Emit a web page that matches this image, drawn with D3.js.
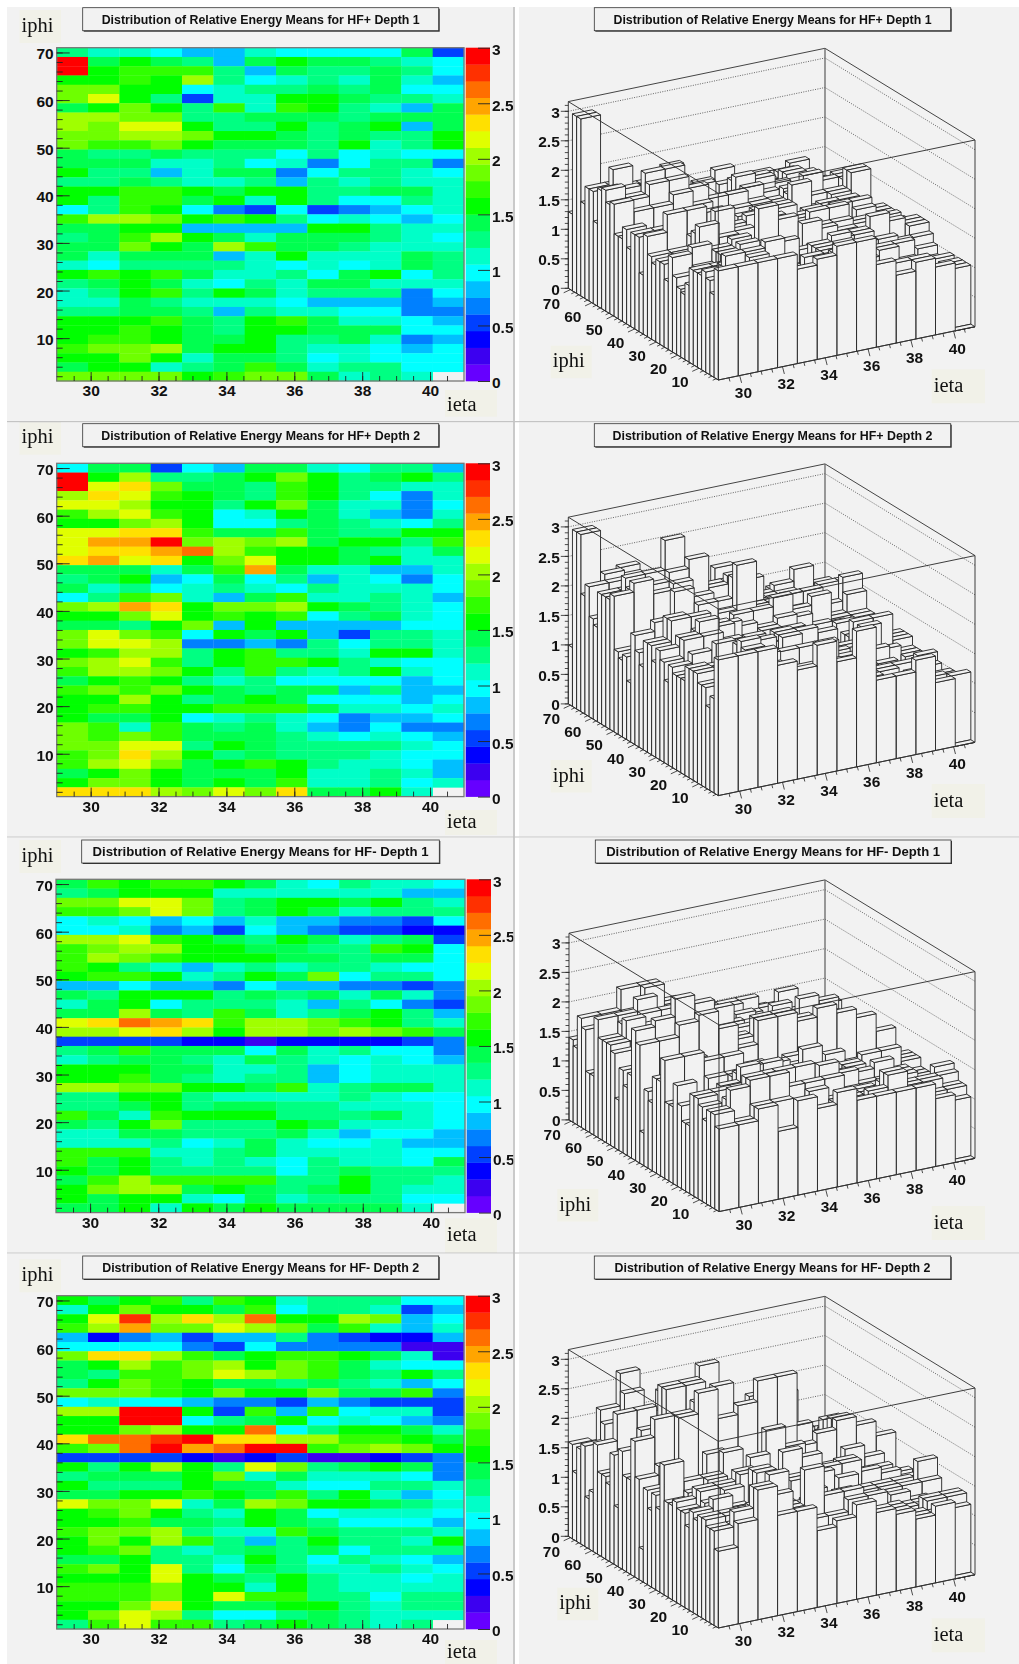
<!DOCTYPE html>
<html>
<head>
<meta charset="utf-8">
<script src="https://cdn.jsdelivr.net/npm/d3@7"></script>
<style>
  body { margin: 0; background: #fff; }
  svg { display: block; filter: blur(0.35px); }
  text { font-family: "Liberation Sans", Arial, sans-serif; }
  .tick text { font-family: "Liberation Sans", Arial, sans-serif; }
</style>
</head>
<body>
<div id="chart"></div>
<script>
// rows run from the top of the heat map (iphi 70) down to iphi 1, columns are ieta 29..41
const hfPlusDepth1 = [
  [1.3,1.15,1.15,1.0,.85,.85,1.15,1.0,1.0,1.0,1.0,1.4,.55],
  [3,1.45,1.6,1.4,1.25,.85,1.45,1.6,1.4,1.4,1.3,1.15,1.0],
  [3,1.6,1.7,1.7,1.7,1.3,.85,1.4,1.3,1.3,1.4,1.3,1.0],
  [1.6,1.6,1.7,1.6,1.95,1.3,1.0,1.15,1.3,1.15,1.45,1.15,.85],
  [1.9,1.9,1.6,1.6,1.0,1.15,1.3,1.3,1.4,1.3,1.45,1.0,1.0],
  [1.9,2.2,1.6,1.3,.55,1.15,1.15,1.6,1.6,1.4,1.3,1.3,1.15],
  [1.4,1.6,1.85,1.6,1.3,1.7,1.15,1.7,1.6,1.3,1.15,.85,1.4],
  [2.0,1.95,1.9,1.9,1.3,1.3,1.4,1.4,1.4,1.3,1.4,1.4,1.4],
  [2.05,1.85,2.2,2.2,1.6,1.3,1.3,1.6,1.3,1.45,1.6,.85,1.4],
  [1.85,1.85,2.05,2.05,1.85,1.6,1.6,1.4,1.3,1.4,1.3,1.3,1.6],
  [1.9,1.7,1.7,1.85,1.6,1.4,1.4,1.4,1.3,1.6,1.15,1.3,1.6],
  [1.4,1.3,1.3,1.4,1.3,1.3,1.3,1.0,1.3,1.0,1.15,1.0,1.0],
  [1.4,1.4,1.4,1.15,1.15,1.3,1.0,1.15,.7,1.0,1.3,1.3,.7],
  [1.6,1.3,1.3,.85,1.15,1.4,1.4,.7,1.0,1.3,1.3,1.15,1.0],
  [1.3,1.3,1.4,1.3,1.15,1.15,1.3,.85,1.3,1.15,1.3,1.15,1.15],
  [1.6,1.6,1.7,1.7,1.6,1.4,1.6,1.6,1.3,1.3,1.4,1.4,1.15],
  [1.6,1.3,1.7,1.7,1.4,1.6,1.15,1.6,1.3,1.0,1.0,1.3,1.15],
  [1.0,1.3,1.7,1.6,1.0,.7,.55,1.0,.5,.7,.85,1.0,1.15],
  [1.7,2.0,2.0,1.9,1.6,1.7,1.6,1.3,1.0,1.15,1.0,.85,1.0],
  [1.4,1.4,1.6,1.6,.85,.85,.85,.85,1.6,1.6,1.3,1.15,1.15],
  [1.3,1.4,1.7,2.0,1.6,1.4,1.15,1.4,1.4,1.4,1.3,1.15,1.0],
  [1.4,1.4,1.85,1.6,1.4,1.95,1.7,1.4,1.4,1.3,1.15,1.15,1.15],
  [1.4,1.15,1.4,1.4,1.4,.85,1.15,1.6,1.15,1.15,1.15,1.45,1.3],
  [1.15,1.0,1.3,1.3,1.3,1.3,1.15,1.0,1.15,1.0,1.15,1.4,1.3],
  [1.6,1.7,1.6,1.7,1.4,1.15,1.15,1.3,1.0,1.4,1.6,1.0,1.3],
  [1.3,1.4,1.6,1.4,1.15,1.0,1.3,1.15,1.4,1.4,1.15,1.15,1.15],
  [1.15,1.3,1.6,1.7,1.3,1.6,1.4,1.15,1.3,1.3,1.3,.7,1.0],
  [1.1,1.1,1.4,1.3,1.1,1.1,1.1,1.0,.85,.85,.85,.7,.85],
  [1.3,1.3,1.4,1.4,1.3,.85,1.3,1.15,1.15,1.0,1.0,.7,.7],
  [1.6,1.6,1.6,1.7,1.4,1.3,1.6,1.7,1.4,1.15,1.15,1.0,.85],
  [1.6,1.6,1.7,1.6,1.4,1.3,1.6,1.6,1.4,1.4,1.4,1.0,1.0],
  [1.6,1.7,1.7,1.6,1.4,1.4,1.6,1.3,1.3,1.4,1.15,.7,.85],
  [1.7,1.9,1.9,2.0,1.4,1.6,1.6,1.3,1.15,1.15,1.0,.85,1.0],
  [1.6,1.6,1.85,1.6,1.15,1.4,1.4,1.3,1.0,1.15,1.0,1.0,1.0],
  [1.4,1.6,1.6,1.15,1.3,1.4,1.7,1.4,1.15,1.3,1.3,1.0,1.0],
  [1.85,1.85,1.85,1.85,1.6,1.7,1.85,1.85,1.4,1.15,1.3,1.15,0]
];

const hfPlusDepth2 = [
  [1.0,1.4,1.4,.55,1.0,.85,1.4,1.4,1.15,1.0,1.3,1.3,.85],
  [3,1.6,2.0,1.3,1.3,1.4,1.6,1.9,1.6,1.3,1.4,1.6,1.3],
  [3,2.2,2.3,1.85,1.4,1.4,1.3,1.7,1.6,1.3,1.3,1.15,1.15],
  [2.0,2.3,2.2,1.7,1.6,1.4,1.3,1.7,1.6,1.3,1.0,.7,1.15],
  [2.2,2.2,2.0,1.6,1.6,1.3,1.6,1.9,1.4,1.15,1.15,.7,1.0],
  [1.7,2.0,2.2,1.7,1.6,1.0,1.15,1.6,1.4,1.15,.85,.7,1.15],
  [1.6,1.6,1.85,2.0,1.6,1.0,1.0,1.3,1.4,1.3,1.15,1.0,1.3],
  [2.2,2.2,2.3,2.3,1.7,1.4,1.4,1.7,1.4,1.3,1.3,1.6,1.6],
  [2.2,2.45,2.45,2.95,1.85,2.05,1.85,2.0,1.4,1.6,1.6,1.3,1.7],
  [2.2,2.3,2.3,2.45,2.6,2.05,1.7,1.6,1.6,1.4,1.3,1.15,1.45],
  [2.3,2.45,2.2,2.3,1.6,1.85,2.2,1.6,1.6,1.45,1.6,1.15,1.15],
  [1.4,1.4,1.4,1.15,1.4,1.7,2.45,1.4,1.15,1.15,.85,.85,1.15],
  [1.3,1.4,1.6,.85,1.0,1.45,1.0,1.3,.85,1.15,1.0,.7,1.0],
  [1.4,1.15,1.3,1.0,1.15,1.3,1.15,1.0,1.3,1.15,1.15,1.15,1.0],
  [1.0,1.3,1.7,1.85,1.15,.85,1.4,1.7,1.15,1.15,1.3,1.15,.85],
  [1.85,2.0,2.45,2.3,1.6,1.85,1.85,2.0,1.6,1.4,1.3,1.15,1.0],
  [1.6,1.6,1.85,2.2,1.6,1.7,1.6,1.7,1.0,1.3,1.4,1.15,1.0],
  [1.4,1.4,1.3,1.6,1.85,.85,1.6,.85,.85,.85,.85,1.0,1.0],
  [1.85,2.2,1.85,1.7,1.0,1.6,1.4,1.6,.85,.55,1.3,1.3,1.15],
  [1.85,2.2,2.2,2.0,.7,.7,.85,.7,1.3,1.0,1.3,1.3,1.15],
  [1.6,1.7,2.0,2.0,1.3,1.6,1.7,1.3,1.3,1.15,1.6,1.6,1.15],
  [1.85,2.0,2.2,1.7,1.3,1.6,1.7,1.7,1.6,1.3,1.15,1.0,1.0],
  [1.7,2.0,2.0,1.85,1.6,1.3,1.7,1.3,1.15,1.3,1.6,1.15,1.0],
  [1.4,1.6,1.7,1.6,1.3,1.15,1.3,1.0,1.0,1.0,1.0,.85,1.0],
  [1.7,1.85,1.7,1.85,1.6,1.4,1.3,1.4,1.4,.85,1.3,.85,.85],
  [1.6,1.6,2.0,1.6,1.3,1.4,1.6,1.4,1.0,1.0,1.0,.85,1.0],
  [1.6,1.7,1.7,1.6,1.6,1.7,1.7,1.7,1.4,1.15,1.15,1.0,1.15],
  [1.6,1.4,1.4,1.6,1.0,1.15,1.3,1.15,1.0,.7,.85,.85,1.0],
  [1.85,1.7,1.15,1.7,1.4,1.3,1.4,1.15,.85,.7,1.0,.7,.7],
  [1.85,1.7,1.85,1.7,1.4,1.4,1.4,1.3,1.15,1.0,1.15,1.0,.85],
  [1.85,1.85,2.2,2.2,1.3,1.6,1.4,1.3,1.3,1.3,1.3,1.15,1.0],
  [1.7,1.85,2.3,2.0,1.6,1.3,1.4,1.3,1.3,1.3,1.15,1.0,1.0],
  [1.7,2.0,2.2,1.85,1.4,1.6,1.7,1.6,1.3,1.15,1.15,1.0,.85],
  [1.4,1.6,1.85,1.6,1.4,1.4,1.4,1.6,1.15,1.15,1.3,1.15,.85],
  [1.6,1.85,1.85,1.6,1.4,1.6,1.4,1.7,1.15,1.15,1.3,1.0,1.15],
  [2.3,2.3,2.3,2.0,1.85,2.2,1.85,2.3,1.4,1.4,1.6,1.15,0]
];

const hfMinusDepth1 = [
  [1.4,1.7,1.6,1.7,1.7,1.6,1.4,1.15,1.0,1.3,1.15,1.15,1.0],
  [1.3,1.4,1.6,1.6,1.6,1.15,1.15,1.15,1.15,1.15,1.15,.85,.85],
  [1.85,1.85,2.2,2.2,1.85,1.3,1.4,1.6,1.6,1.4,1.6,1.3,1.15],
  [1.7,1.7,1.85,2.2,1.85,1.3,1.4,1.6,1.4,1.15,1.3,1.3,1.3],
  [1.0,1.15,1.0,.85,1.0,.85,1.15,.85,.85,.7,.7,.55,1.0],
  [1.0,1.0,1.15,.7,.85,.55,1.0,.85,.7,.5,.5,.4,.4],
  [2.0,2.0,2.2,1.7,1.6,1.4,1.3,1.6,1.4,1.15,1.3,1.4,.55],
  [1.7,1.9,2.0,2.0,1.6,1.6,1.4,1.4,1.3,1.3,1.7,1.6,1.0],
  [1.7,2.0,1.85,1.7,1.6,1.6,1.6,1.4,1.4,1.3,1.4,1.4,1.0],
  [1.7,1.6,1.3,1.15,.85,1.15,1.3,1.15,1.3,1.3,1.15,1.0,1.0],
  [1.6,1.7,1.7,1.6,1.15,1.3,1.6,1.4,1.85,1.0,1.3,1.3,1.0],
  [.85,.85,1.0,.85,.85,.7,1.0,.85,.85,.7,.7,.55,.7],
  [1.4,1.3,1.6,1.6,1.6,1.3,1.4,1.3,1.4,1.15,1.4,1.15,.7],
  [1.15,1.4,1.6,1.0,1.3,1.3,1.3,1.15,.85,1.3,1.0,.7,.55],
  [1.4,1.4,2.0,1.4,1.3,1.7,1.4,1.15,1.3,1.4,1.6,1.3,.85],
  [2.2,2.3,2.6,2.45,2.3,1.7,2.0,2.0,1.85,1.7,1.6,1.3,1.15],
  [2.0,2.0,2.2,2.3,2.0,1.6,2.0,2.0,1.85,2.0,1.85,1.7,1.4],
  [.55,.55,.55,.55,.4,.4,.25,.4,.4,.4,.4,.55,.7],
  [1.3,1.4,1.7,1.4,1.4,1.4,1.0,1.4,1.15,1.3,1.0,1.0,.7],
  [1.15,1.3,1.4,1.4,1.3,1.15,1.4,1.3,1.15,1.0,1.15,1.0,.85],
  [1.6,1.6,1.6,1.4,1.4,1.15,1.15,1.3,.85,1.0,1.15,1.15,1.15],
  [1.6,1.6,1.7,1.4,1.3,1.15,1.3,1.3,.85,1.0,1.15,1.15,1.15],
  [2.0,2.0,1.85,1.85,1.6,1.6,1.4,1.7,1.15,1.3,1.4,1.4,1.15],
  [1.3,1.3,1.6,1.6,1.3,1.15,1.15,1.15,1.15,1.3,1.15,1.0,1.0],
  [1.3,1.3,1.4,1.6,1.3,1.4,1.4,1.3,1.3,1.15,1.15,1.15,1.0],
  [1.7,1.4,1.15,1.7,1.6,1.6,1.6,1.3,1.3,1.3,1.4,1.15,1.0],
  [1.4,1.3,1.6,1.85,1.3,1.3,1.3,1.6,1.4,1.15,1.15,1.15,1.0],
  [1.15,1.15,1.4,1.4,1.3,1.3,1.3,1.4,1.15,.85,1.0,1.0,.85],
  [1.15,1.15,1.15,1.3,1.0,1.15,1.4,1.15,1.0,1.0,1.15,.85,.85],
  [1.7,1.7,1.7,1.15,1.15,1.3,1.4,1.15,1.15,1.15,1.15,1.0,1.0],
  [1.7,1.4,1.6,1.3,1.15,1.3,1.15,1.0,1.3,1.15,1.15,1.0,1.4],
  [1.6,1.4,1.6,1.3,1.3,1.3,1.3,1.0,1.3,1.4,1.3,1.3,1.3],
  [1.4,1.7,2.0,1.7,1.7,1.7,1.7,1.3,1.3,1.6,1.3,1.3,1.15],
  [1.6,1.9,2.0,2.0,1.4,1.6,1.4,1.3,1.4,1.6,1.3,1.15,1.15],
  [1.6,1.4,1.6,1.6,1.15,1.0,1.4,1.15,1.3,1.3,1.3,1.0,1.0],
  [1.4,1.4,1.6,1.15,1.6,1.4,1.6,1.4,1.4,1.4,1.4,1.15,0]
];

const hfMinusDepth2 = [
  [1.6,1.4,1.6,1.7,1.3,1.7,1.6,1.15,1.3,1.3,1.3,1.0,1.0],
  [1.15,1.6,1.85,1.6,1.6,1.4,1.7,1.0,1.3,1.3,1.15,.55,.85],
  [1.6,2.2,2.75,2.0,2.3,2.0,2.6,1.6,1.6,2.0,1.85,.85,1.0],
  [1.7,2.0,2.45,1.85,1.85,2.2,2.0,1.85,1.4,1.7,1.15,.85,1.15],
  [.85,.4,.7,.85,.55,.85,.85,1.3,.7,.55,.4,.4,.85],
  [1.0,1.0,1.0,1.0,.7,.55,1.0,.7,.7,.7,.7,.25,.25],
  [1.85,2.3,2.3,2.0,1.7,1.4,1.6,1.7,1.7,1.6,1.4,1.15,.25],
  [1.4,1.6,2.0,1.7,1.85,2.0,1.6,1.85,1.7,1.4,1.15,1.0,1.0],
  [1.4,1.3,1.7,1.7,1.85,2.2,2.0,1.85,1.7,1.4,1.3,1.6,1.3],
  [1.3,1.6,1.85,1.7,1.6,1.4,1.4,1.3,1.4,1.3,1.15,.85,1.0],
  [1.85,1.85,1.85,1.7,1.6,1.85,1.6,1.6,1.85,1.4,1.4,1.7,.7],
  [1.0,1.15,1.0,1.0,.85,.7,.7,.55,.85,.7,.55,.55,.55],
  [2.0,2.0,2.95,2.95,1.6,.55,1.7,.85,1.7,1.0,1.15,1.15,.55],
  [1.6,1.6,2.95,2.95,1.0,1.3,1.4,1.6,1.0,1.15,1.0,.85,.7],
  [1.6,1.6,1.85,2.0,1.6,1.6,2.6,1.0,1.3,1.6,1.6,1.4,1.15],
  [2.3,2.6,2.6,2.75,2.95,2.3,2.3,2.0,2.0,1.7,1.7,1.6,1.4],
  [1.7,1.85,2.6,2.95,2.45,2.6,2.95,2.95,1.7,1.85,2.0,1.85,1.6],
  [.55,.55,.55,.55,.4,.25,.4,.55,.25,.25,.4,.55,.7],
  [1.6,1.3,1.6,2.0,1.6,1.3,2.2,1.85,1.3,1.4,1.6,1.4,.7],
  [1.3,1.4,1.4,1.4,1.6,1.85,1.15,1.4,1.15,1.15,1.15,1.0,.7],
  [1.6,1.3,1.3,1.3,1.6,1.4,1.4,1.15,1.0,1.0,1.3,1.3,1.15],
  [1.4,1.4,1.6,1.6,1.7,1.6,1.4,1.7,1.3,1.6,1.15,.85,1.0],
  [2.2,1.85,1.85,2.2,1.15,1.4,2.0,1.85,1.6,1.6,1.4,1.3,1.15],
  [1.6,1.7,1.85,1.6,1.3,1.15,1.6,1.4,1.0,1.15,1.15,1.15,1.0],
  [1.6,1.6,1.7,1.4,1.4,1.3,1.6,1.4,1.3,1.0,1.0,1.0,.85],
  [1.7,1.85,1.85,2.0,1.3,1.15,1.15,1.7,1.4,1.3,1.3,1.3,1.15],
  [1.6,1.85,1.6,2.0,1.7,1.3,.85,1.3,1.6,1.3,1.3,1.15,1.6],
  [1.6,1.7,1.85,1.3,1.15,1.3,1.4,1.3,1.4,1.0,1.3,1.3,1.3],
  [1.4,1.4,1.6,1.3,1.3,1.15,1.6,1.3,1.0,1.3,1.15,1.0,.85],
  [1.7,1.85,1.6,2.2,1.3,1.0,1.4,1.3,1.15,1.15,1.3,1.15,1.0],
  [1.6,1.6,1.6,2.2,1.6,1.4,1.3,1.6,1.3,1.15,1.15,1.0,1.15],
  [1.7,1.7,1.7,1.85,1.6,1.6,1.15,1.6,1.3,1.15,1.15,1.15,1.15],
  [1.7,1.7,1.7,1.85,1.6,2.2,1.7,1.7,1.3,1.3,1.0,1.3,1.3],
  [1.6,1.6,1.85,2.3,1.6,1.4,1.4,1.6,1.6,1.3,1.15,1.3,1.3],
  [1.6,1.85,2.2,2.0,1.3,1.0,1.0,1.3,1.4,1.3,1.15,1.15,1.15],
  [1.3,1.7,2.2,1.7,1.7,1.3,1.4,1.6,1.4,1.3,1.15,1.3,0]
];

const titles = [
  "Distribution of Relative Energy Means for HF+ Depth 1",
  "Distribution of Relative Energy Means for HF+ Depth 2",
  "Distribution of Relative Energy Means for HF- Depth 1",
  "Distribution of Relative Energy Means for HF- Depth 2"
];
const paletteColors = ["#6600ff","#3c00f0","#0000ff","#0040ff","#0080ff","#00bfff","#00ffff","#00ffc8","#00ff82","#00ff50",
  "#00ff00","#30ff00","#6eff00","#a0ff00","#e0ff00","#ffe000","#ffa500","#ff6e00","#ff3000","#ff0000"];
const etaTicks = [30, 32, 34, 36, 38, 40];
const phiTicks = [10, 20, 30, 40, 50, 60, 70];
const zTicks = [0, 0.5, 1, 1.5, 2, 2.5, 3];

const allData = [hfPlusDepth1, hfPlusDepth2, hfMinusDepth1, hfMinusDepth2];

// layout, one entry per row of the page
const plotTop = [47.7, 463.3, 879.3, 1295.7];
const plotH = 333.3;
const plotX0 = [56.7, 56.7, 56, 56.7];
const plotX1 = [464, 464, 465, 464];
const paletteX0 = [465.7, 465.7, 466.7, 465.7];
const titleTop = [7.7, 423.7, 840, 1256];
const titleBoxL = [[82.7, 438.7], [82.7, 438.7], [81.7, 439.3], [82.7, 438.7]];
const titleBoxR = [[594.3, 950.7], [594.3, 950.7], [595.3, 951], [594.3, 950.7]];
const titleLenL = [318, 319, 336, 317];
const titleLenR = [318, 320, 334, 316];
const iphiBoxL = [10, 421.7, 840, 1259.3];
const ietaBoxL = [390, 810, 1218.3, 1640];
const ietaBaseL = [410.7, 828.3, 1240.7, 1658.3];
const ietaHeightL = [26.7, 25, 34.7, 24];
const iphiBoxR = [[550.7, 345.7], [550.7, 760], [557.3, 1189], [557.3, 1587.7]];
const ietaBoxR = [369.3, 784, 1206, 1618.3];
const legoDx = [0, 0, 0.7, 0];

const nEta = 13, nPhi = 36;
const etaEdges = d3.range(nEta + 1).map(i => 29 + i * 12 / nEta);
const phiEdges = d3.range(nPhi + 1).map(i => 1 + i * 70 / nPhi);

const colorScale = d3.scaleQuantize().domain([0, 3]).range(paletteColors);
const ink = "#222";

const svg = d3.select("#chart").append("svg")
  .attr("width", 1019).attr("height", 1664);

// panel backgrounds
const bgPanels = [[7, 7, 506, 414.5], [519, 7, 500, 414.5], [7, 422.5, 506, 414], [519, 422.5, 500, 414],
  [7, 838, 506, 414.5], [519, 838, 500, 414.5], [7, 1254, 506, 410], [519, 1254, 500, 410]];
svg.selectAll("rect.bg").data(bgPanels).enter().append("rect")
  .attr("class", "bg")
  .attr("x", d => d[0]).attr("y", d => d[1]).attr("width", d => d[2]).attr("height", d => d[3])
  .attr("fill", "#f2f2f2");

function drawTitle(row, box, len) {
  const g = svg.append("g");
  const top = titleTop[row];
  g.append("rect").attr("x", box[0] + 1).attr("y", top + 1).attr("width", box[1] - box[0]).attr("height", 23).attr("fill", "#333");
  g.append("rect").attr("x", box[0]).attr("y", top).attr("width", box[1] - box[0]).attr("height", 23)
    .attr("fill", "#f2f2f2").attr("stroke", "#333").attr("stroke-width", 0.8);
  g.append("text").attr("x", (box[0] + box[1]) / 2).attr("y", top + 16)
    .attr("text-anchor", "middle")
    .attr("font-size", 12).attr("font-weight", "bold").attr("fill", "#111")
    .attr("textLength", len).attr("lengthAdjust", "spacingAndGlyphs")
    .text(titles[row]);
}

function axisLabel(str, x, boxTop, boxW, boxH, baseline) {
  svg.append("rect").attr("x", x).attr("y", boxTop).attr("width", boxW).attr("height", boxH).attr("fill", "#f1f1e8");
  svg.append("text").attr("x", x + 2).attr("y", baseline)
    .style("font-family", "'Liberation Serif', 'Times New Roman', serif")
    .attr("font-size", 20.5).attr("fill", "#111").text(str);
}

function styleAxis(g, size) {
  g.select(".domain").remove();
  g.selectAll(".tick line").attr("stroke", ink).attr("stroke-width", 0.9);
  g.selectAll(".tick text").attr("font-size", size).attr("font-weight", "bold").attr("fill", "#111");
}

function drawHeatmap(row) {
  const values = allData[row];
  const top = plotTop[row], x0 = plotX0[row], x1 = plotX1[row];
  const x = d3.scaleLinear().domain([29, 41]).range([x0, x1]);
  const y = d3.scaleLinear().domain([1, 71]).range([top + plotH, top]);
  const g = svg.append("g");

  const cells = [];
  values.forEach((r, ri) => r.forEach((v, ci) => cells.push({ v, ci, pi: nPhi - 1 - ri })));
  g.selectAll("rect.cell").data(cells.filter(d => d.v > 0)).enter().append("rect")
    .attr("class", "cell")
    .attr("x", d => x(etaEdges[d.ci]))
    .attr("y", d => y(phiEdges[d.pi + 1]))
    .attr("width", d => x(etaEdges[d.ci + 1]) - x(etaEdges[d.ci]) + 0.3)
    .attr("height", d => y(phiEdges[d.pi]) - y(phiEdges[d.pi + 1]) + 0.3)
    .attr("fill", d => colorScale(d.v));

  // frame
  g.append("rect").attr("x", x0).attr("y", top).attr("width", x1 - x0).attr("height", plotH)
    .attr("fill", "none").attr("stroke", "#777").attr("stroke-width", 1.3);

  // axes: minor ticks first, then majors with labels
  g.append("g").attr("transform", `translate(0,${top + plotH})`)
    .call(d3.axisBottom(x).tickValues(d3.range(29.5, 41, 0.5)).tickSize(-5).tickFormat(""))
    .call(a => styleAxis(a, 15.5));
  g.append("g").attr("transform", `translate(0,${top + plotH})`)
    .call(d3.axisBottom(x).tickValues(etaTicks).tickSize(-9).tickPadding(4))
    .call(a => styleAxis(a, 15.5));
  g.append("g").attr("transform", `translate(${x0},0)`)
    .call(d3.axisLeft(y).tickValues(d3.range(2, 71, 2)).tickSize(-6).tickFormat(""))
    .call(a => styleAxis(a, 15.5));
  g.append("g").attr("transform", `translate(${x0},0)`)
    .call(d3.axisLeft(y).tickValues(phiTicks).tickSize(-13).tickPadding(3))
    .call(a => styleAxis(a, 15.5))
    .call(a => a.selectAll("text").attr("dy", "0.42em"));

  // colour bar
  const px0 = paletteX0[row], pw = 24.3;
  const z = d3.scaleLinear().domain([0, 3]).range([top + plotH, top]);
  g.selectAll("rect.pal").data(paletteColors).enter().append("rect")
    .attr("class", "pal")
    .attr("x", px0).attr("width", pw)
    .attr("y", (d, i) => z((i + 1) * 0.15))
    .attr("height", plotH / 20 + 0.3)
    .attr("fill", d => d);
  g.append("g").attr("transform", `translate(${px0 + pw},0)`)
    .call(d3.axisRight(z).tickValues(zTicks).tickSize(-12).tickPadding(14).tickFormat(d3.format("")))
    .call(a => styleAxis(a, 15.5))
    .call(a => a.selectAll("text").attr("x", 2).attr("dy", "0.45em"));

  axisLabel("iphi", 19.5, iphiBoxL[row], 41.5, 33, iphiBoxL[row] + 21.7);
  axisLabel("ieta", 445, ietaBoxL[row], 52, ietaHeightL[row], ietaBaseL[row]);
}

function drawLego(row) {
  const values = allData[row];
  const top = plotTop[row], dx = legoDx[row];
  const ox = 718.3 + dx, oy = top + 332.3;

  // oblique projection: every axis maps to a screen offset through its own scale
  const etaX = d3.scaleLinear().domain([29, 41]).range([0, 256.7 - dx]);
  const etaY = d3.scaleLinear().domain([29, 41]).range([0, -53.3]);
  const phiX = d3.scaleLinear().domain([1, 71]).range([0, -150]);
  const phiY = d3.scaleLinear().domain([1, 71]).range([0, -91.7]);
  const zY = d3.scaleLinear().domain([0, 3]).range([0, -177]);
  const zMax = 186.7 / 59;
  const proj = (e, p, z) => [ox + etaX(e) + phiX(p), oy + etaY(e) + phiY(p) + zY(z)];

  const g = svg.append("g");
  const line = d3.line();

  // back walls and dotted levels
  const backLevels = zTicks.slice(1);
  g.selectAll("path.level").data(backLevels).enter().append("path")
    .attr("class", "level")
    .attr("d", z => line([proj(29, 71, z), proj(41, 71, z), proj(41, 1, z)]))
    .attr("fill", "none").attr("stroke", "#555").attr("stroke-width", 0.9).attr("stroke-dasharray", "1,1.4");
  g.append("path").attr("d", line([proj(29, 71, zMax), proj(41, 71, zMax), proj(41, 1, zMax)]))
    .attr("fill", "none").attr("stroke", "#444").attr("stroke-width", 1);
  g.append("path").attr("d", line([proj(41, 71, 0), proj(41, 71, zMax)]))
    .attr("stroke", "#666").attr("stroke-width", 1.3);

  // bars, far ones first so that near ones paint over them
  const polys = [];
  for (let pi = nPhi - 1; pi >= 0; pi--) {
    const r = values[nPhi - 1 - pi];
    for (let ci = nEta - 1; ci >= 0; ci--) {
      const e0 = etaEdges[ci], e1 = etaEdges[ci + 1], p0 = phiEdges[pi], p1 = phiEdges[pi + 1], v = r[ci];
      polys.push([proj(e0, p0, 0), proj(e1, p0, 0), proj(e1, p0, v), proj(e0, p0, v)]);
      polys.push([proj(e0, p1, 0), proj(e0, p0, 0), proj(e0, p0, v), proj(e0, p1, v)]);
      polys.push([proj(e0, p0, v), proj(e1, p0, v), proj(e1, p1, v), proj(e0, p1, v)]);
    }
  }
  g.selectAll("polygon").data(polys).enter().append("polygon")
    .attr("points", d => d.join(" "))
    .attr("fill", "#f2f2f2").attr("stroke", ink).attr("stroke-width", 0.9).attr("stroke-linejoin", "round");

  // box outline on top of the bars
  const outline = [
    [proj(29, 71, 0), proj(29, 71, zMax), proj(29, 1, zMax), proj(41, 1, zMax), proj(41, 1, 0)],
    [proj(29, 1, 0), proj(29, 1, zMax)],
    [proj(29, 71, 0), proj(29, 1, 0), proj(41, 1, 0)]
  ];
  g.selectAll("path.box").data(outline).enter().append("path")
    .attr("class", "box")
    .attr("d", d => line(d))
    .attr("fill", "none").attr("stroke", "#333").attr("stroke-width", 0.95);

  // z axis
  const zx = proj(29, 71, 0)[0];
  const tick = (pts) => g.append("path").attr("d", line(pts)).attr("stroke", ink).attr("stroke-width", 0.8);
  d3.range(0, 3.15, 0.1).forEach(z => {
    const yy = proj(29, 71, z)[1];
    tick([[zx, yy], [zx - 3.5, yy]]);
  });
  zTicks.forEach(z => {
    const yy = proj(29, 71, z)[1];
    tick([[zx, yy], [zx - 7.5, yy]]);
    g.append("text").attr("x", zx - 8.5).attr("y", yy + 1).attr("dy", "0.36em").attr("text-anchor", "end")
      .attr("font-size", 15.5).attr("font-weight", "bold").attr("fill", "#111").text(z);
  });

  // iphi axis along the left floor edge
  d3.range(2, 71, 2).forEach(p => {
    const q = proj(29, p, 0), len = phiTicks.includes(p) ? 7.5 : 3.8;
    tick([q, [q[0] - len * 0.9, q[1] + len * 0.42]]);
  });
  phiTicks.forEach(p => {
    const q = proj(29, p, 0);
    g.append("text").attr("x", q[0] - 19).attr("y", q[1] + 13.5).attr("dy", "0.36em").attr("text-anchor", "middle")
      .attr("font-size", 15.5).attr("font-weight", "bold").attr("fill", "#111").text(p);
  });

  // ieta axis along the front floor edge
  d3.range(29.5, 41, 0.5).forEach(e => {
    const q = proj(e, 1, 0), len = etaTicks.includes(e) ? 7.5 : 3.8;
    tick([q, [q[0] + len * 0.25, q[1] + len * 0.97]]);
  });
  etaTicks.forEach(e => {
    const q = proj(e, 1, 0);
    g.append("text").attr("x", q[0] + 3.7).attr("y", q[1] + 17).attr("dy", "0.36em").attr("text-anchor", "middle")
      .attr("font-size", 15.5).attr("font-weight", "bold").attr("fill", "#111").text(e);
  });

  axisLabel("iphi", iphiBoxR[row][0], iphiBoxR[row][1], 41, 32.5, iphiBoxR[row][1] + 21.5);
  axisLabel("ieta", 931.7, ietaBoxR[row], 53.3, 34, ietaBoxR[row] + 23);
}

d3.range(4).forEach(row => {
  drawHeatmap(row);
  drawTitle(row, titleBoxL[row], titleLenL[row]);
  drawLego(row);
  drawTitle(row, titleBoxR[row], titleLenR[row]);
});

// dividers between the pads
svg.append("line").attr("x1", 514).attr("x2", 514).attr("y1", 7).attr("y2", 1664).attr("stroke", "#bdbdbd").attr("stroke-width", 1.6);
[421.7, 837, 1253].forEach(yy => {
  svg.append("line").attr("x1", 7).attr("x2", 1019).attr("y1", yy).attr("y2", yy).attr("stroke", "#c4c4c4").attr("stroke-width", 1.2);
});
</script>
</body>
</html>
